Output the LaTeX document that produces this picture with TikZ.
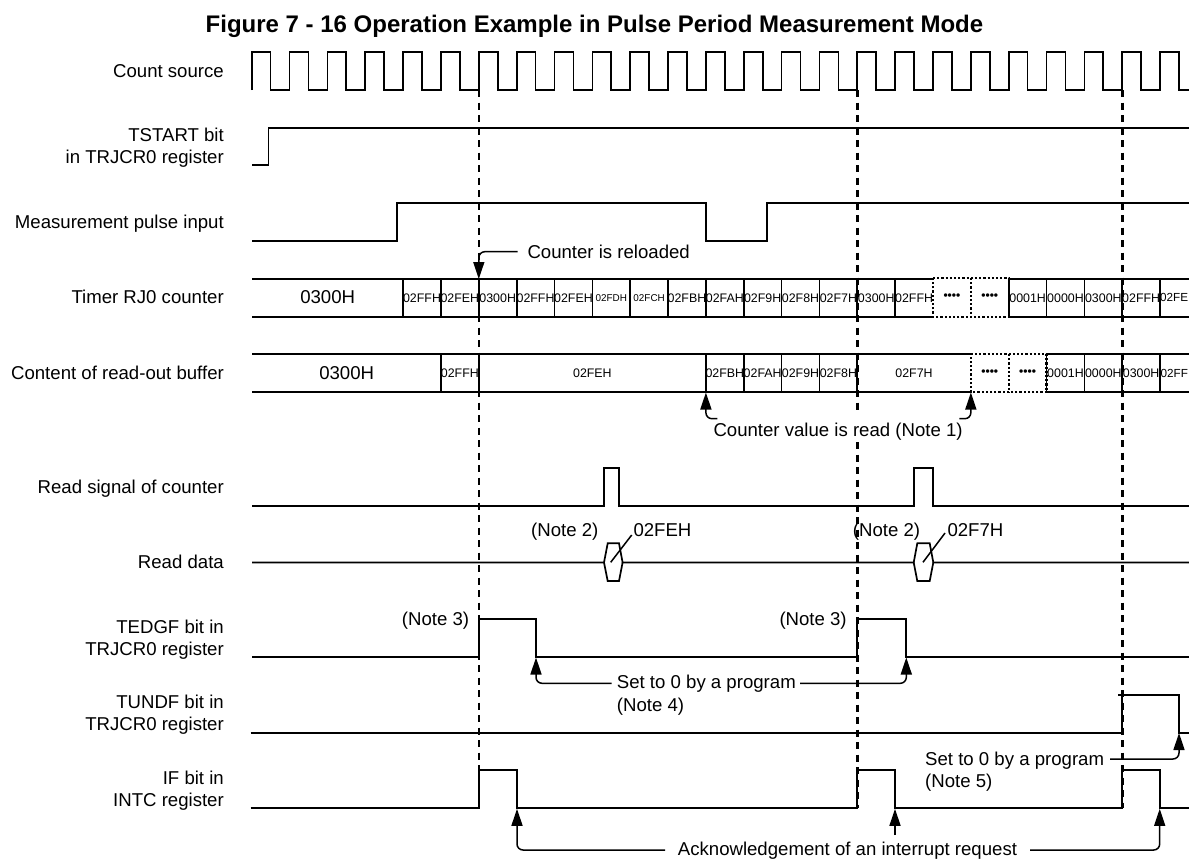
\documentclass[tikz,border=0pt]{standalone}
\usepackage{fontspec}
\setmainfont{Liberation Sans}
\usetikzlibrary{arrows.meta}
\newcommand{\kx}[1]{{251.7+37.85*(#1)}}
\tikzset{
  sig/.style={line width=1.7pt,line join=miter,black},
  dash line/.style={line width=2.5pt,dash pattern=on 7pt off 5.5pt,black},
  dot line/.style={line width=2.2pt,dash pattern=on 2.2pt off 2pt,black},
  ptr/.style={line width=1.5pt,black,rounded corners=6pt,-{Triangle[length=17pt,width=11pt]}},
  lead/.style={line width=1.5pt,black},
  lbl/.style={inner sep=0pt,anchor=base east,align=right,font=\fontsize{18.6}{22.3}\selectfont},
  txt/.style={inner sep=0pt,anchor=base west,align=left,font=\fontsize{18.6}{22.3}\selectfont},
  big/.style={inner sep=0pt,anchor=center,font=\fontsize{18.6}{22.3}\selectfont},
  cell/.style={inner sep=0pt,anchor=center,font=\fontsize{12.4}{14}\selectfont},
  tiny/.style={inner sep=0pt,anchor=center,font=\fontsize{9.9}{12}\selectfont},
  edgecell/.style={inner sep=0pt,anchor=west,font=\fontsize{11.7}{14}\selectfont},
  dots/.style={inner sep=0pt,anchor=center,font=\fontsize{12}{14}\selectfont\bfseries},
}
\begin{document}
\begin{tikzpicture}[x=1pt,y=-1pt]
\useasboundingbox (0,0) rectangle (1189,859);
\node[inner sep=0pt,anchor=base west,font=\fontsize{24}{28}\selectfont\bfseries] (title) at (205.5,32.5) {Figure 7 - 16 Operation Example in Pulse Period Measurement Mode};
% row labels
\node[lbl] (lcount) at (224,77.5) {Count source};
\node[lbl] (ltstart) at (224,141.5) {TSTART bit};
\node[lbl] (ltstart2) at (224,163.8) {in TRJCR0 register};
\node[lbl] (lmeas) at (224,228.8) {Measurement pulse input};
\node[lbl] (ltimer) at (224,303.2) {Timer RJ0 counter};
\node[lbl] (lbuf) at (224,379.2) {Content of read-out buffer};
\node[lbl] (lread) at (224,493.2) {Read signal of counter};
\node[lbl] (ldata) at (224,568.2) {Read data};
\node[lbl] (ltedgf) at (224,633.2) {TEDGF bit in};
\node[lbl] (ltedgf2) at (224,655.5) {TRJCR0 register};
\node[lbl] (ltundf) at (224,708.2) {TUNDF bit in};
\node[lbl] (ltundf2) at (224,730.8) {TRJCR0 register};
\node[lbl] (lif) at (224,784.2) {IF bit in};
\node[lbl] (lif2) at (224,806.5) {INTC register};
% waveforms
\draw[sig] (251.7,90) foreach \k in {0,...,24} { -- (\kx{\k},90) -- (\kx{\k},51.7) -- (\kx{\k+0.5},51.7) -- (\kx{\k+0.5},90) } -- (1189,90);
\draw[sig] (252,165) -- (268.5,165) -- (268.5,127.7) -- (1189,127.7);
\draw[sig] (252,240.7) -- (396.7,240.7) -- (396.7,203.3) -- (705.8,203.3) -- (705.8,240.7) -- (766.7,240.7) -- (766.7,203.3) -- (1189,203.3);
% dashed reload lines
\coordinate (reloadTip) at (\kx{6},279);
\draw[dash line] (\kx{6},90) -- (\kx{6},808);
\draw[dash line] (\kx{16},90) -- (\kx{16},414) (\kx{16},442) -- (\kx{16},808);
\draw[dash line] (\kx{23},90) -- (\kx{23},808);
% timer counter bus
\draw[sig] (252,279) -- (\kx{18},279) (\kx{20},279) -- (1189,279);
\draw[sig] (252,316.7) -- (\kx{18},316.7) (\kx{20},316.7) -- (1189,316.7);
\foreach \k in {4,...,17,20,21,22,23,24} \draw[sig] (\kx{\k},279) -- (\kx{\k},316.7);
\draw[dot line] (\kx{18},278) -- (\kx{20},278) -- (\kx{20},316.7) -- (\kx{18},316.7) -- cycle;
\draw[dot line] (\kx{19},278) -- (\kx{19},316.7);
\node[big] (t0) at (327.7,297.5) {0300H};
\foreach \k/\t in {4/02FFH,5/02FEH,6/0300H,7/02FFH,8/02FEH,11/02FBH,12/02FAH,13/02F9H,14/02F8H,15/02F7H,16/0300H,17/02FFH,20/0001H,21/0000H,22/0300H,23/02FFH}
  \node[cell] (t\k) at (\kx{\k+0.5},297.8) {\t};
\node[tiny] (t9) at (\kx{9.5},297.8) {02FDH};
\node[tiny] (t10) at (\kx{10.5},297.8) {02FCH};
\node[dots] (t18) at (\kx{18.5},296.5) {••••};
\node[dots] (t19) at (\kx{19.5},297) {••••};
\node[edgecell] (t24) at (1160,297.8) {02FE};
% read-out buffer bus
\draw[sig] (252,354.3) -- (\kx{19},354.3) (\kx{21},354.3) -- (1189,354.3);
\draw[sig] (252,392) -- (\kx{19},392) (\kx{21},392) -- (1189,392);
\foreach \k in {5,6,12,13,14,15,16,21,22,23,24} \draw[sig] (\kx{\k},354.3) -- (\kx{\k},392);
\draw[dot line] (\kx{19},354) -- (\kx{21},354) -- (\kx{21},392) -- (\kx{19},392) -- cycle;
\draw[dot line] (\kx{20},354) -- (\kx{20},392);
\node[big] (b0) at (346.7,372.7) {0300H};
\foreach \k/\t in {5/02FFH,12/02FBH,13/02FAH,14/02F9H,15/02F8H,21/0001H,22/0000H,23/0300H}
  \node[cell] (b\k) at (\kx{\k+0.5},373) {\t};
\node[cell] (b6) at (592.4,373) {02FEH};
\node[cell] (b16) at (914,373) {02F7H};
\node[dots] (b19) at (\kx{19.5},372.5) {••••};
\node[dots] (b20) at (\kx{20.5},372.5) {••••};
\node[edgecell] (b24) at (1160.5,373) {02FF};
% read signal
\draw[sig] (252,505.7) -- (604,505.7) -- (604,468) -- (619.3,468) -- (619.3,505.7) -- (913.7,505.7) -- (913.7,468) -- (933.3,468) -- (933.3,505.7) -- (1189,505.7);
% read data
\draw[sig] (252,562.5) -- (604,562.5) -- (607.7,543.3) -- (619,543.3) -- (622.6,562.5) -- (913.7,562.5) -- (917.3,543.3) -- (929.7,543.3) -- (933.3,562.5) -- (1189,562.5);
\draw[sig] (604,562.5) -- (607.7,581) -- (619,581) -- (622.6,562.5);
\draw[sig] (913.7,562.5) -- (917.3,581) -- (929.7,581) -- (933.3,562.5);
\coordinate (hexa) at (610.7,562.3);
\coordinate (hexb) at (923,562.3);
\node[txt] (n2a) at (531,536.6) {(Note 2)};
\node[txt] (vfe) at (633.3,536.6) {02FEH};
\node[txt] (n2b) at (852.7,536.6) {(Note 2)};
\node[txt] (vf7) at (947.3,536.6) {02F7H};
\coordinate (vfeS) at (631.7,535);
\coordinate (vf7S) at (945,533);
\draw[lead] (hexa) -- (vfeS);
\draw[lead] (hexb) -- (vf7S);
% TEDGF
\draw[sig] (252,657) -- (\kx{6},657) -- (\kx{6},619.3) -- (536,619.3) -- (536,657) -- (\kx{16},657) -- (\kx{16},619.3) -- (906.3,619.3) -- (906.3,657) -- (1189,657);
\node[txt] (n3a) at (401.7,625) {(Note 3)};
\node[txt] (n3b) at (779.3,625) {(Note 3)};
% TUNDF
\draw[sig] (250.7,732.7) -- (\kx{23},732.7) -- (\kx{23},695);
\draw[sig] (1118.3,695) -- (1179,695) -- (1179,732.7) -- (1189,732.7);
% IF
\draw[sig] (250.7,808.3) -- (\kx{6},808.3) -- (\kx{6},770.3) -- (517,770.3) -- (517,808.3) -- (\kx{16},808.3) -- (\kx{16},770.3) -- (895,770.3) -- (895,808.3) -- (\kx{23},808.3) -- (\kx{23},770.3) -- (1159.7,770.3) -- (1159.7,808.3) -- (1189,808.3);
% callouts
\node[txt] (creload) at (527.3,258.3) {Counter is reloaded};
\coordinate (creloadS) at (517.7,251.7);
\draw[ptr] (creloadS) -| (reloadTip);
\node[txt] (cread) at (713.3,436) {Counter value is read (Note 1)};
\coordinate (creadL) at (717.3,418.7);
\coordinate (creadR) at (959.3,418.7);
\coordinate (rdTipL) at (\kx{12},392.5);
\coordinate (rdTipR) at (\kx{19},392.5);
\draw[ptr] (creadL) -| (rdTipL);
\draw[ptr] (creadR) -| (rdTipR);
\node[txt] (set4) at (616.7,688.3) {Set to 0 by a program};
\node[txt] (n4) at (616.7,711.7) {(Note 4)};
\coordinate (set4L) at (611.7,683.3);
\coordinate (set4R) at (800,683.3);
\coordinate (set4TipL) at (536,657.5);
\coordinate (set4TipR) at (906.3,657.5);
\draw[ptr] (set4L) -| (set4TipL);
\draw[ptr] (set4R) -| (set4TipR);
\node[txt] (set5) at (925,765) {Set to 0 by a program};
\node[txt] (n5) at (925,787.3) {(Note 5)};
\coordinate (set5S) at (1110,759);
\coordinate (set5Tip) at (1179,733);
\draw[ptr] (set5S) -| (set5Tip);
\node[txt] (ack) at (677.7,855) {Acknowledgement of an interrupt request};
\coordinate (ackL) at (665,850);
\coordinate (ackR) at (1030,850);
\coordinate (ackTipL) at (517,808.8);
\coordinate (ackTipM) at (895,808.8);
\coordinate (ackTipR) at (1159.7,808.8);
\coordinate (ackMS) at (895,835);
\draw[ptr] (ackL) -| (ackTipL);
\draw[ptr] (ackMS) -- (ackTipM);
\draw[ptr] (ackR) -| (ackTipR);
\end{tikzpicture}
\end{document}
